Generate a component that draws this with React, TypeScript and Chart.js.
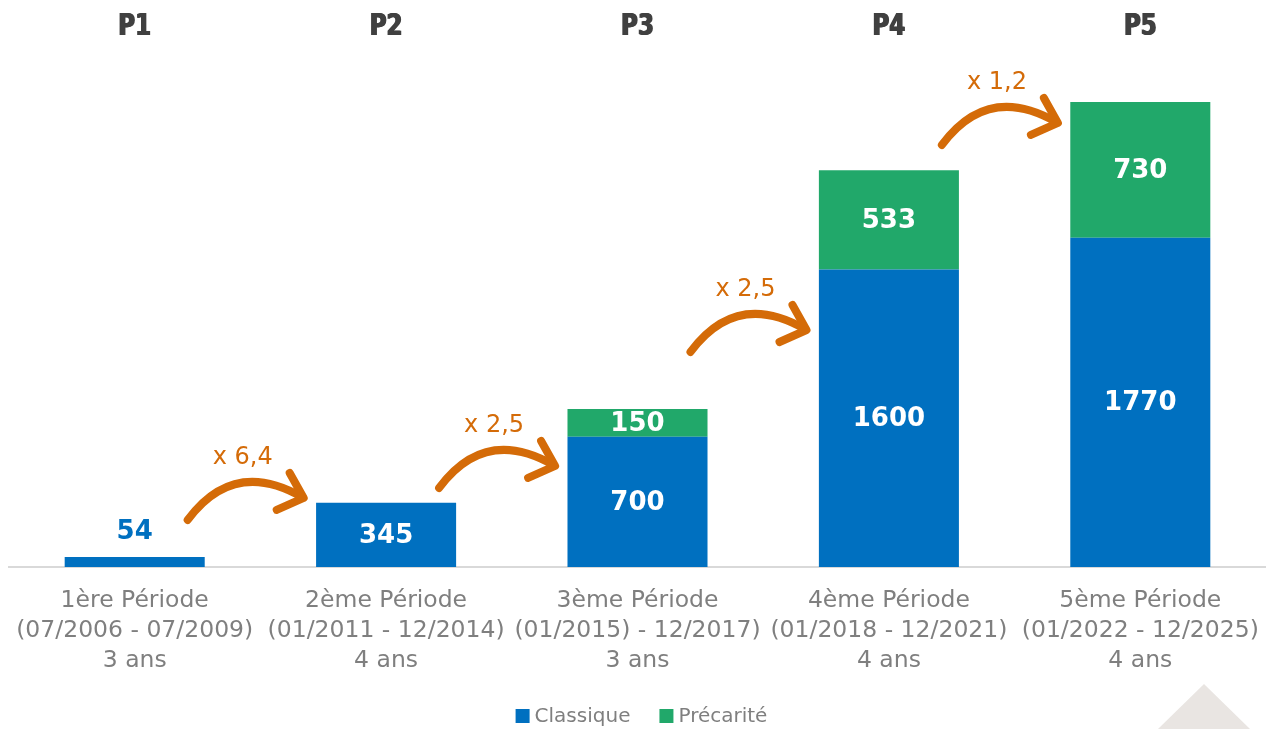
import React, { useEffect, useRef } from "react";
import { Chart, registerables } from "chart.js";

Chart.register(...registerables);

const categories: string[][] = [
  ["1ère Période", "(07/2006 - 07/2009)", "3 ans"],
  ["2ème Période", "(01/2011 - 12/2014)", "4 ans"],
  ["3ème Période", "(01/2015) - 12/2017)", "3 ans"],
  ["4ème Période", "(01/2018 - 12/2021)", "4 ans"],
  ["5ème Période", "(01/2022 - 12/2025)", "4 ans"],
];
const periodLabels = ["P1", "P2", "P3", "P4", "P5"];
const classique = [54, 345, 700, 1600, 1770];
const precarite: (number | null)[] = [null, null, 150, 533, 730];
const growthLabels = ["x 6,4", "x 2,5", "x 2,5", "x 1,2"];
const arrowLevels = [253, 425, 1156, 2269];

const BLUE = "#0070C0";
const GREEN = "#21A86A";
const ORANGE = "#D46B08";
const FONT = '"DejaVu Sans", Verdana, sans-serif';

const decorPlugin = {
  id: "decor",
  beforeDraw(chart: any) {
    const ctx = chart.ctx;
    ctx.save();
    ctx.fillStyle = "#E9E5E2";
    ctx.beginPath();
    ctx.moveTo(1158, 729);
    ctx.lineTo(1204, 684);
    ctx.lineTo(1250, 729);
    ctx.closePath();
    ctx.fill();
    ctx.restore();
  },
  afterDraw(chart: any) {
    const ctx = chart.ctx;
    const xs = chart.scales.x;
    const ys = chart.scales.y;
    const area = chart.chartArea;
    ctx.save();
    ctx.textAlign = "center";
    ctx.textBaseline = "middle";

    // period headers
    ctx.fillStyle = "#404040";
    ctx.font = `bold 31px ${FONT}`;
    periodLabels.forEach((p, i) => {
      const x = xs.getPixelForValue(i);
      ctx.save();
      ctx.translate(x, 27);
      ctx.scale(0.74, 1);
      for (const d of [-1, 0, 1]) ctx.fillText(p, d, 0);
      ctx.restore();
    });

    // value labels
    ctx.font = `bold 26px ${FONT}`;
    chart.data.datasets.forEach((ds: any, di: number) => {
      const meta = chart.getDatasetMeta(di);
      meta.data.forEach((el: any, i: number) => {
        const v = ds.data[i];
        if (v == null) return;
        const { x, y, base } = el.getProps(["x", "y", "base"], true);
        const h = base - y;
        if (h < 20) {
          ctx.fillStyle = ds.backgroundColor;
          ctx.fillText(String(v), x, y - 25);
        } else {
          ctx.fillStyle = "#FFFFFF";
          ctx.fillText(String(v), x, (y + base) / 2 + 1);
        }
      });
    });

    // growth arrows
    ctx.strokeStyle = ORANGE;
    ctx.fillStyle = ORANGE;
    ctx.lineWidth = 8;
    ctx.lineCap = "round";
    ctx.lineJoin = "round";
    ctx.font = `24px ${FONT}`;
    growthLabels.forEach((g, i) => {
      const sx = xs.getPixelForValue(i) + 53;
      const sy = ys.getPixelForValue(arrowLevels[i]);
      const tx = sx + 116;
      const ty = sy - 22;
      ctx.beginPath();
      ctx.moveTo(sx, sy);
      ctx.quadraticCurveTo(sx + 46, sy - 62, tx - 2, ty - 1);
      ctx.stroke();
      ctx.beginPath();
      ctx.moveTo(tx - 14, ty - 25);
      ctx.lineTo(tx, ty);
      ctx.lineTo(tx - 27, ty + 12);
      ctx.stroke();
      ctx.fillText(g, sx + 55, sy - 62);
    });

    // legend
    ctx.font = `20px ${FONT}`;
    ctx.textAlign = "left";
    const items = chart.data.datasets.map((ds: any) => ({
      label: ds.label,
      color: ds.backgroundColor,
      w: 14 + 5 + ctx.measureText(ds.label).width,
    }));
    const gap = 29;
    const total = items.reduce((s: number, it: any) => s + it.w, 0) + gap * (items.length - 1);
    let lx = (area.left + area.right) / 2 + 4 - total / 2;
    const ly = 716;
    items.forEach((it: any) => {
      ctx.fillStyle = it.color;
      ctx.fillRect(lx, ly - 7, 14, 14);
      ctx.fillStyle = "#7F7F7F";
      ctx.fillText(it.label, lx + 19, ly + 1);
      lx += it.w + gap;
    });
    ctx.restore();
  },
};

export default function App() {
  const ref = useRef<HTMLCanvasElement | null>(null);
  useEffect(() => {
    if (!ref.current) return;
    const chart = new Chart(ref.current, {
      type: "bar",
      data: {
        labels: categories,
        datasets: [
          { label: "Classique", data: classique, backgroundColor: BLUE, borderWidth: 0 },
          { label: "Précarité", data: precarite as any, backgroundColor: GREEN, borderWidth: 0 },
        ],
      },
      options: {
        animation: false,
        responsive: false,
        layout: { padding: { top: 9, left: 9, right: 0, bottom: 53 } },
        datasets: { bar: { categoryPercentage: 1, barPercentage: 0.557 } },
        plugins: { legend: { display: false }, tooltip: { enabled: false } },
        scales: {
          x: {
            stacked: true,
            grid: { display: false, drawTicks: true, tickLength: 19 },
            border: { display: true, color: "#D9D9D9", width: 2 },
            ticks: {
              color: "#7F7F7F",
              padding: 0,
              font: { family: FONT, size: 23.5, lineHeight: 30 / 23.5 },
              maxRotation: 0,
              autoSkip: false,
            },
          },
          y: {
            stacked: true,
            display: false,
            min: 0,
            max: 3000,
          },
        },
      },
      plugins: [decorPlugin],
    });
    return () => chart.destroy();
  }, []);
  return (
    <div style={{ position: "absolute", left: 0, top: 0, width: 1266, height: 729, background: "#fff" }}>
      <canvas ref={ref} width={1266} height={729} style={{ display: "block" }} />
    </div>
  );
}
